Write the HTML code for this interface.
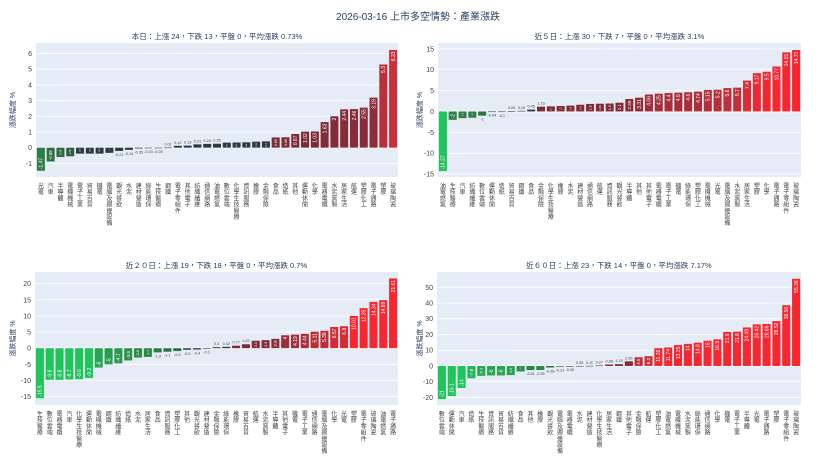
<!DOCTYPE html>
<html><head><meta charset="utf-8">
<style>
html,body{margin:0;padding:0;background:#fff;}
svg{display:block;font-family:"Liberation Sans","Noto Sans CJK TC",sans-serif;}
</style></head>
<body>
<svg id="chart" width="836" height="470" viewBox="0 0 836 470" xmlns="http://www.w3.org/2000/svg">
<text x="418" y="20" text-anchor="middle" font-size="10" fill="#2a3f5f">2026-03-16 上市多空情勢：產業漲跌</text>
</svg>
<script>
const cats1 = ["光電","汽車","半導體","電機機械","電子工業","貿易百貨","機電","電腦及週邊設備","觀光餐飲","水泥","建材營造","綠能環保","生技醫療","鋼鐵","電子零組件","其他電子","紡織纖維","通信網路","油電燃氣","數位雲端","化學生技醫療","資訊服務","橡膠","金融保險","食品","造紙","其他","運動休閒","化學","電器電纜","水泥窯製","居家生活","航運","塑膠化工","電子通路","塑膠","玻璃陶瓷"];
const vals1 = [-1.47,-0.88,-0.6,-0.55,-0.38,-0.38,-0.38,-0.33,-0.21,-0.14,-0.05,-0.03,-0.03,0.01,0.12,0.13,0.21,0.24,0.25,0.32,0.33,0.34,0.38,0.4,0.65,0.66,0.87,1.02,1.03,1.63,2.0,2.44,2.46,2.55,3.19,5.3,6.23];
const cats2 = ["油電燃氣","生技醫療","汽車","紡織纖維","數位雲端","運動休閒","造紙","貿易百貨","鋼鐵","食品","金融保險","化學生技醫療","橡膠","水泥","建材營造","通信網路","航運","資訊服務","觀光餐飲","半導體","其他","其他電子","電器電纜","電子工業","機電","綠能環保","塑膠化工","電機機械","光電","電腦及週邊設備","水泥窯製","居家生活","塑膠","化學","電子通路","電子零組件","玻璃陶瓷"];
const vals2 = [-14.27,-2.0,-1.6,-1.5,-1.0,-0.04,-0.1,0.09,0.15,0.45,1.15,1.22,1.3,1.4,1.6,1.8,1.85,1.9,2.1,2.99,3.31,4.06,4.25,4.4,4.5,4.6,4.74,5.15,5.2,5.6,5.7,7.4,9.17,9.5,10.77,14.15,14.71];
const cats3 = ["生技醫療","數位雲端","電器電纜","汽車","化學生技醫療","運動休閒","電機機械","鋼鐵","紡織纖維","造紙","水泥","居家生活","食品","資訊服務","塑膠化工","其他","觀光餐飲","建材營造","金融保險","綠能環保","橡膠","貿易百貨","航運","水泥窯製","半導體","其他電子","機電","電子工業","通信網路","電腦及週邊設備","化學","光電","塑膠","電子零組件","玻璃陶瓷","油電燃氣","電子通路"];
const vals3 = [-15.5,-9.8,-9.8,-9.7,-9.6,-9.2,-6.0,-5.0,-4.7,-3.8,-2.9,-2.7,-1.3,-1.1,-0.9,-0.5,-0.4,-0.1,0.3,0.42,0.77,1.22,2.3,2.5,2.9,4.0,4.19,4.44,5.11,5.39,6.57,6.8,10.01,12.39,14.34,14.89,21.61];
const cats4 = ["數位雲端","運動休閒","汽車","造紙","生技醫療","資訊服務","貿易百貨","紡織纖維","食品","其他","橡膠","觀光餐飲","電腦及週邊設備","電器電纜","水泥","建材營造","化學生技醫療","居家生活","鋼鐵","其他電子","金融保險","航運","塑膠化工","油電燃氣","電機機械","水泥窯製","綠能環保","通信網路","化學","機電","電子工業","半導體","光電","電子通路","塑膠","電子零組件","玻璃陶瓷"];
const vals4 = [-21.0,-19.1,-14.0,-7.8,-6.3,-6.0,-6.0,-5.8,-3.5,-2.61,-2.55,-0.98,-0.31,-0.05,0.05,0.11,0.27,0.88,1.13,2.95,5.5,6.2,11.28,11.74,13.25,14.0,14.8,16.0,16.9,21.6,21.8,24.49,26.42,26.66,28.52,38.56,55.38];
const titles = ["本日：上漲 24，下跌 13，平盤 0，平均漲跌 0.73%","近５日：上漲 30，下跌 7，平盤 0，平均漲跌 3.1%","近２０日：上漲 19，下跌 18，平盤 0，平均漲跌 0.7%","近６０日：上漲 23，下跌 14，平盤 0，平均漲跌 7.17%"];
const ticks1 = [-1,0,1,2,3,4,5,6];
const ticks2 = [-15,-10,-5,0,5,10,15];
const ticks3 = [-15,-10,-5,0,5,10,15,20];
const ticks4 = [-20,-10,0,10,20,30,40,50];

const NS="http://www.w3.org/2000/svg";
const svg=document.getElementById('chart');
function mk(tag,attrs,parent){const e=document.createElementNS(NS,tag);for(const k in attrs)e.setAttribute(k,attrs[k]);(parent||svg).appendChild(e);return e;}
function hex(c){return [parseInt(c.slice(1,3),16),parseInt(c.slice(3,5),16),parseInt(c.slice(5,7),16)];}
function lerp(a,b,t){const A=hex(a),B=hex(b);return 'rgb('+A.map((x,i)=>Math.round(x+(B[i]-x)*t)).join(',')+')';}
function color(v){
  const pos=[[0,'#2d3a44'],[0.42,'#2d3a44'],[0.6,'#7a2a36'],[3,'#8a2c38'],[6,'#c8303a'],[10,'#f7262f'],[1000,'#f7262f']];
  const neg=[[0,'#2d3a44'],[0.42,'#2d3a44'],[0.6,'#2e6a42'],[1.5,'#2e7d46'],[5,'#2a9a4e'],[9,'#1fc45a'],[1000,'#1fc45a']];
  const s=v>=0?pos:neg,a=Math.abs(v);
  for(let i=0;i<s.length-1;i++){if(a<=s[i+1][0]){return lerp(s[i][1],s[i+1][1],(a-s[i][0])/(s[i+1][0]-s[i][0]));}}
  return s[s.length-1][1];
}
function panel(idx,cats,vals,ticks,x0,x1,y0,y1,ymin,ymax,ylabX){
  const g=mk('g',{});
  
  
  const bg=mk('rect',{x:x0,y:y0,width:x1-x0,height:y1-y0,fill:'#e5ecf6'},g);
  
  
  const ys=v=>y0+(ymax-v)/(ymax-ymin)*(y1-y0);
  const n=cats.length,slot=(x1-x0)/n,bw=slot*0.82;
  const xs=i=>x0+slot*(i+0.5);
  ticks.forEach(t=>{
    const gl=mk('line',{x1:x0,x2:x1,y1:ys(t),y2:ys(t),stroke:'#fff','stroke-width':t===0?1.5:0.8},g);
    
    
    const tl=mk('text',{x:x0-4,y:ys(t)+2.5,'text-anchor':'end','font-size':7,fill:'#444'},g);
    
    
    tl.textContent=t;
  });
  const tt=mk('text',{x:(x0+x1)/2,y:y0-4,'text-anchor':'middle','font-size':7.5,fill:'#2a3f5f'},g);
  
  
  tt.textContent=titles[idx];
  const cy=(y0+y1)/2;
  const yt=mk('text',{x:ylabX,y:cy,'text-anchor':'middle','font-size':7,fill:'#2a3f5f',transform:'rotate(-90 '+ylabX+' '+cy+')'},g);
  
  
  yt.textContent='漲跌幅度 %';
  cats.forEach((c,i)=>{
    const v=vals[i],yb=ys(Math.max(v,0)),ye=ys(Math.min(v,0)),h=Math.max(ye-yb,0.6);
    const r=mk('rect',{x:xs(i)-bw/2,y:yb,width:bw,height:h,fill:color(v)},g);
    
    
    const lab=String(v);
    if(h>=5){
      const fs=Math.min(5,(h-1.5)/(lab.length*0.58));
      const ty=v>=0?yb+1.5:ye-1.5;
      const bl=mk('text',{x:xs(i)+fs*0.36,y:ty,'font-size':fs.toFixed(2),fill:'#fff','text-anchor':v>=0?'end':'start',transform:'rotate(-90 '+(xs(i)+fs*0.36)+' '+ty+')'},g);
      
      
      bl.textContent=lab;
    } else {
      const ty=v>=0?yb-2:ye+5;
      const bl=mk('text',{x:xs(i),y:ty,'font-size':3.8,fill:'#444','text-anchor':'middle'},g);
      
      
      bl.textContent=lab;
    }
    [...c].forEach((ch,k)=>{
      const cl=mk('text',{x:xs(i),y:y1+11+k*6.2,'font-size':6,fill:'#444','text-anchor':'middle'},g);
      
      
      cl.textContent=ch;
    });
  });
}
panel(0,cats1,vals1,ticks1,36,398,43,177,-1.87,6.67,15);
panel(1,cats2,vals2,ticks2,438,801,43,177,-15.7,16.4,422);
panel(2,cats3,vals3,ticks3,35,398,272,405,-17.6,23.6,15);
panel(3,cats4,vals4,ticks4,437,801,272,405,-24.8,59.7,422);
</script>
</body></html>
